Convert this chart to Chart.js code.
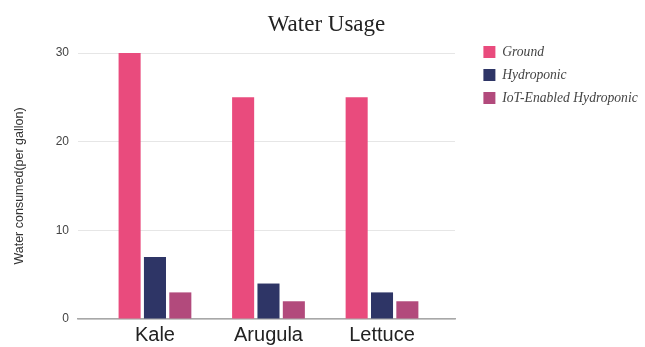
<!DOCTYPE html>
<html>
<head>
<meta charset="utf-8">
<script src="https://cdn.jsdelivr.net/npm/chart.js@4"></script>
<style>
  html, body { margin: 0; padding: 0; background: #ffffff; }
  #wrap { width: 645px; height: 347px; }
</style>
</head>
<body>
<div id="wrap"><canvas id="c" width="645" height="347"></canvas></div>
<script>
const categories = ['Kale', 'Arugula', 'Lettuce'];
const seriesNames = ['Ground', 'Hydroponic', 'IoT-Enabled Hydroponic'];
const groundValues = [30, 25, 25];
const hydroponicValues = [7, 4, 3];
const iotValues = [3, 2, 2];
const yTicks = [0, 10, 20, 30];
const seriesColors = ['#e94b7d', '#2e3566', '#b24a7c'];

const seriesValues = [groundValues, hydroponicValues, iotValues];
const datasets = seriesNames.map((name, s) => ({
  label: name,
  data: seriesValues[s].map((v, i) => ({ x: i, y: v })),
  backgroundColor: seriesColors[s],
  borderWidth: 0,
  categoryPercentage: 0.67,
  barPercentage: 0.87
}));

new Chart(document.getElementById('c'), {
  type: 'bar',
  data: { datasets },
  options: {
    responsive: false,
    animation: false,
    devicePixelRatio: 1,
    layout: { padding: { left: 12, right: 4, top: 0, bottom: 0 } },
    plugins: {
      tooltip: { enabled: false },
      title: {
        display: true,
        text: 'Water Usage',
        font: { family: 'Liberation Serif', size: 23, weight: 'normal' },
        color: '#222',
        padding: { top: 11, bottom: 14.4 }
      },
      legend: {
        position: 'right',
        align: 'start',
        maxWidth: 167,
        title: {
          display: true,
          text: ' ',
          font: { size: 12 },
          padding: { top: 10.7, bottom: 10.7 }
        },
        labels: {
          boxWidth: 12,
          boxHeight: 12,
          padding: 9.4,
          color: '#444',
          font: { family: 'Liberation Serif', size: 13.6, style: 'italic' }
        }
      }
    },
    scales: {
      x: {
        type: 'linear',
        offset: false,
        min: -0.678,
        max: 2.643,
        grid: { display: false, drawTicks: false },
        border: { display: true, color: '#a8a8a8', width: 1.5 },
        afterBuildTicks: (scale) => { scale.ticks = categories.map((c, i) => ({ value: i })); },
        afterFit: (scale) => { scale.height = 28; },
        ticks: {
          padding: 4,
          color: '#222',
          maxRotation: 0,
          font: { family: 'Liberation Sans', size: 20 },
          callback: (v) => categories[v]
        }
      },
      y: {
        min: 0,
        max: 30,
        afterBuildTicks: (scale) => { scale.ticks = yTicks.map(v => ({ value: v })); },
        afterFit: (scale) => { scale.width = 66; },
        grid: { color: '#e6e6e6', drawTicks: false, lineWidth: 1 },
        border: { display: false },
        ticks: {
          padding: 9,
          color: '#444',
          font: { family: 'Liberation Sans', size: 12 }
        },
        title: {
          display: true,
          text: 'Water consumed(per gallon)',
          color: '#333',
          font: { family: 'Liberation Sans', size: 12.5 },
          padding: { top: 0, bottom: 0 }
        }
      },
      yr: {
        position: 'right',
        display: true,
        grid: { display: false, drawTicks: false },
        border: { display: false },
        ticks: { display: false },
        afterFit: (scale) => { scale.width = 19; }
      }
    }
  }
});
</script>
</body>
</html>
